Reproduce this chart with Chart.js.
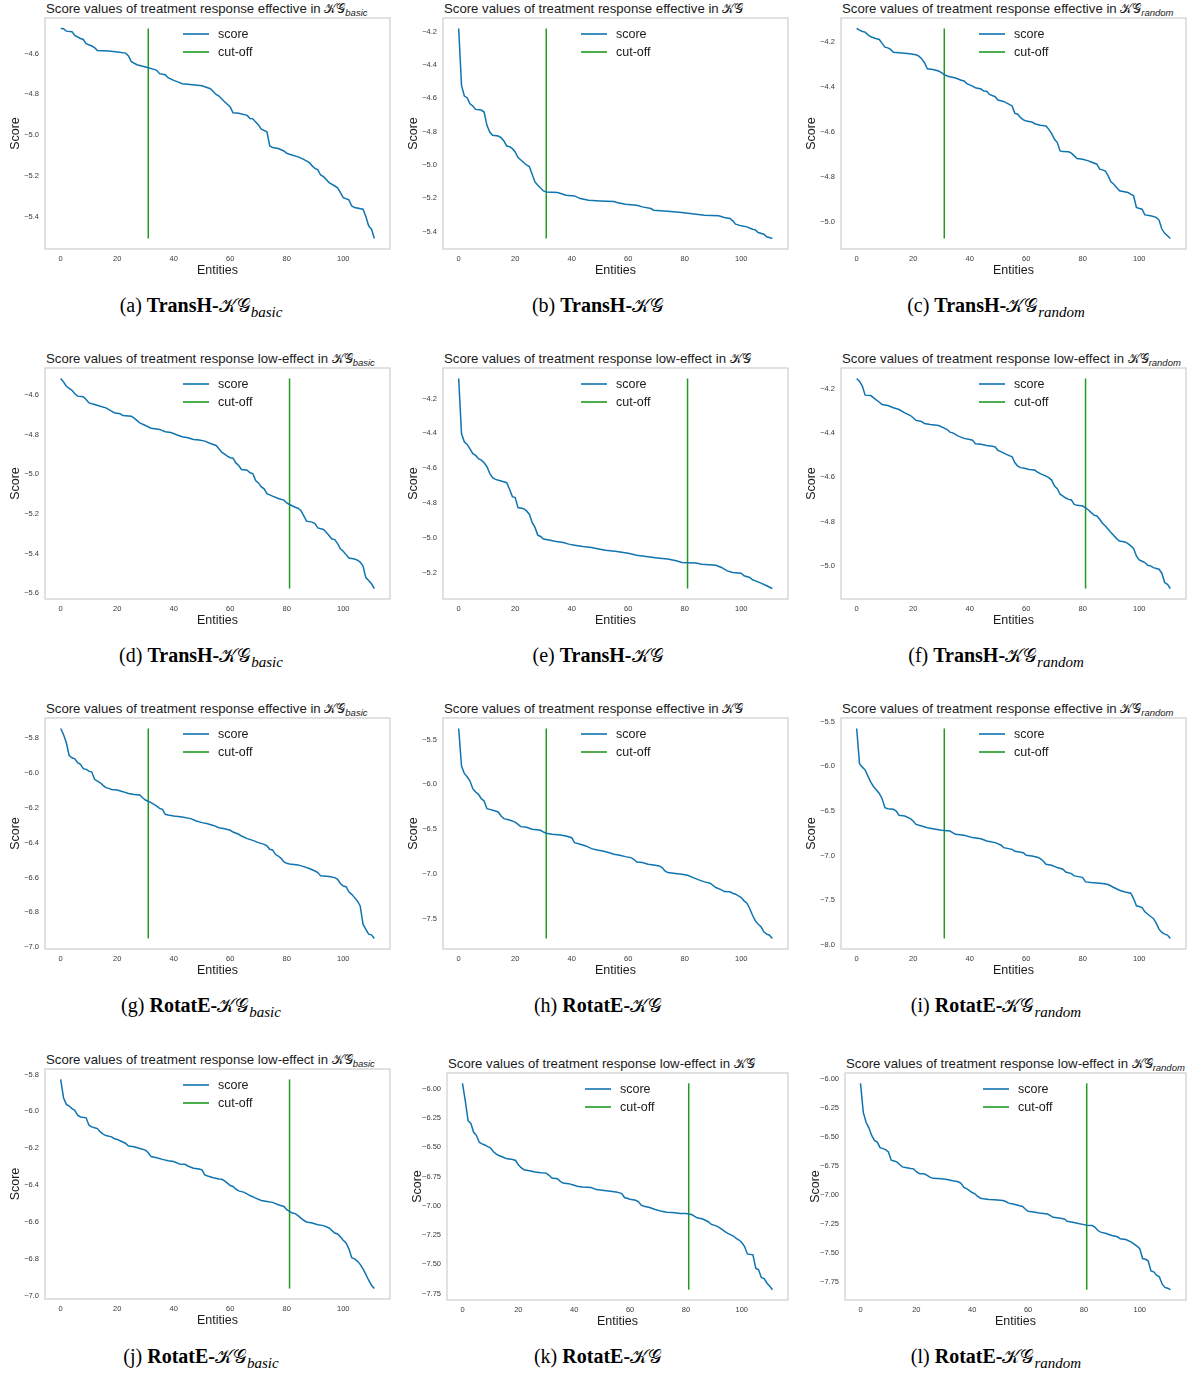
<!DOCTYPE html>
<html>
<head>
<meta charset="utf-8">
<script src="https://cdn.jsdelivr.net/npm/chart.js@4.4.0/dist/chart.umd.min.js"></script>
<style>
  body { margin: 0; background: #fff; width: 1192px; height: 1374px; position: relative; overflow: hidden;
         font-family: 'Liberation Sans', Arial, sans-serif; }
  canvas { position: absolute; }
  .ttl { position: absolute; font-size: 13.2px; color: #1a1a1a; white-space: nowrap; line-height: 14px; }
  .ttl .kg { font-family: 'DejaVu Serif', serif; font-size: 13px; }
  .ttl sub { font-style: italic; font-size: 9.5px; vertical-align: -3px; line-height: 0; }
  .cap { position: absolute; font-family: 'Liberation Serif', 'Times New Roman', serif; font-size: 20px;
         white-space: nowrap; transform: translateX(-50%); line-height: 24px; color: #000; }
  .cap .kg { font-family: 'DejaVu Serif', serif; font-size: 19px; }
  .cap sub { font-style: italic; font-size: 15px; vertical-align: -5px; line-height: 0; }
</style>
</head>
<body>
<script>
// entity index (sorted by score) and score readings, one pair of arrays per panel
const xsA = [0,1,2,4,5,7,8,9,11,12,
  13,17,20,23,24,25,27,30,31,33,
  34,35,37,38,40,41,43,45,50,53,
  54,55,56,58,60,61,63,66,67,68,
  70,71,73,74,75,77,79,80,81,84,
  86,88,89,90,91,92,93,95,97,98,
  99,100,102,103,104,107,108,109,110,111]
const ysA = [-4.476,-4.477,-4.489,-4.492,-4.510,-4.525,-4.530,-4.551,-4.562,-4.570,
  -4.584,-4.587,-4.592,-4.597,-4.611,-4.639,-4.654,-4.665,-4.669,-4.677,
  -4.682,-4.698,-4.703,-4.718,-4.731,-4.736,-4.747,-4.750,-4.757,-4.772,
  -4.786,-4.800,-4.808,-4.836,-4.862,-4.890,-4.893,-4.903,-4.918,-4.920,
  -4.950,-4.971,-4.984,-5.053,-5.061,-5.066,-5.078,-5.089,-5.094,-5.107,
  -5.119,-5.135,-5.151,-5.164,-5.171,-5.196,-5.204,-5.233,-5.250,-5.259,
  -5.282,-5.307,-5.318,-5.348,-5.356,-5.364,-5.400,-5.446,-5.462,-5.508]

const xsB = [0,1,2,3,4,5,6,8,9,10,
  11,12,14,15,16,17,18,19,20,21,
  22,24,25,27,28,30,31,35,38,41,
  43,46,50,55,56,59,63,65,68,69,
  74,79,84,87,92,94,96,97,98,100,
  102,104,105,106,108,109,111]
const ysB = [-4.180,-4.522,-4.586,-4.596,-4.632,-4.646,-4.666,-4.670,-4.682,-4.762,
  -4.802,-4.822,-4.826,-4.836,-4.856,-4.886,-4.890,-4.902,-4.922,-4.956,
  -4.970,-5.000,-5.010,-5.102,-5.122,-5.156,-5.162,-5.166,-5.182,-5.186,
  -5.202,-5.212,-5.216,-5.220,-5.226,-5.236,-5.242,-5.252,-5.262,-5.272,
  -5.278,-5.286,-5.296,-5.302,-5.306,-5.316,-5.322,-5.336,-5.356,-5.366,
  -5.372,-5.386,-5.390,-5.406,-5.416,-5.432,-5.442]

const xsC = [0,1,2,3,4,5,6,7,8,9,
  10,11,12,13,18,21,22,23,24,25,
  27,29,30,31,32,33,35,37,38,39,
  41,42,44,45,46,47,49,50,52,54,
  55,56,57,58,59,60,62,63,65,
  67,68,69,70,71,72,73,75,76,77,
  78,80,82,83,85,86,87,88,89,90,
  91,93,96,97,98,99,100,101,102,104,
  106,107,108,109,110,111]
const ysC = [-4.141,-4.148,-4.154,-4.157,-4.169,-4.178,-4.182,-4.187,-4.190,-4.207,
  -4.224,-4.227,-4.234,-4.247,-4.252,-4.258,-4.264,-4.275,-4.293,-4.320,
  -4.323,-4.330,-4.337,-4.346,-4.352,-4.355,-4.361,-4.371,-4.374,-4.386,
  -4.397,-4.404,-4.410,-4.419,-4.420,-4.434,-4.444,-4.459,-4.465,-4.478,
  -4.485,-4.518,-4.522,-4.537,-4.547,-4.552,-4.556,-4.564,-4.571,
  -4.574,-4.589,-4.608,-4.633,-4.648,-4.685,-4.688,-4.689,-4.695,-4.707,
  -4.719,-4.722,-4.729,-4.734,-4.744,-4.766,-4.769,-4.774,-4.796,-4.822,
  -4.833,-4.862,-4.870,-4.877,-4.884,-4.936,-4.941,-4.944,-4.969,-4.973,
  -4.980,-4.992,-5.032,-5.051,-5.062,-5.074]

const xsD = [0,1,2,3,4,5,6,8,9,10,
  12,14,16,18,19,21,22,25,26,28,
  30,32,35,37,39,41,43,45,47,49,
  51,53,55,56,57,59,60,61,62,63,
  64,66,67,68,69,70,71,72,73,75,
  77,79,80,81,83,84,85,86,87,89,
  90,91,93,94,96,97,98,99,100,101,
  102,104,105,106,107,108,109,110,111]
const ysD = [-4.516,-4.533,-4.555,-4.566,-4.576,-4.593,-4.605,-4.608,-4.622,-4.639,
  -4.647,-4.656,-4.664,-4.681,-4.689,-4.694,-4.703,-4.706,-4.716,-4.740,
  -4.753,-4.767,-4.773,-4.785,-4.789,-4.800,-4.810,-4.815,-4.824,-4.827,
  -4.832,-4.844,-4.854,-4.871,-4.888,-4.908,-4.916,-4.918,-4.942,-4.955,
  -4.975,-4.979,-4.992,-4.996,-5.031,-5.043,-5.063,-5.073,-5.097,-5.110,
  -5.122,-5.130,-5.144,-5.152,-5.166,-5.171,-5.182,-5.208,-5.236,-5.241,
  -5.248,-5.270,-5.278,-5.292,-5.326,-5.329,-5.349,-5.376,-5.388,-5.405,
  -5.422,-5.427,-5.433,-5.443,-5.463,-5.521,-5.536,-5.552,-5.576]

const xsE = [0,1,2,3,4,5,6,7,8,9,
  10,11,12,13,15,17,18,19,20,21,
  23,24,25,26,27,28,29,30,32,34,
  37,39,41,44,47,50,52,56,60,63,
  67,71,74,77,79,81,84,86,91,93,
  95,97,100,101,103,104,105,107,109,111]
const ysE = [-4.085,-4.403,-4.449,-4.464,-4.489,-4.517,-4.527,-4.546,-4.554,-4.569,
  -4.592,-4.630,-4.655,-4.665,-4.674,-4.684,-4.722,-4.764,-4.769,-4.827,
  -4.833,-4.846,-4.865,-4.912,-4.941,-4.985,-4.993,-5.008,-5.013,-5.020,
  -5.028,-5.037,-5.043,-5.051,-5.057,-5.066,-5.072,-5.080,-5.089,-5.101,
  -5.110,-5.118,-5.123,-5.133,-5.143,-5.144,-5.146,-5.152,-5.158,-5.171,
  -5.191,-5.200,-5.204,-5.219,-5.229,-5.242,-5.248,-5.261,-5.276,-5.292]

const xsF = [0,1,2,3,5,6,8,9,11,13,
  15,17,19,20,21,23,24,26,29,31,
  32,33,34,36,38,40,41,42,44,46,
  48,49,50,51,53,55,56,57,58,
  59,61,63,64,65,67,68,69,70,71,
  72,73,74,75,76,77,78,80,81,82,
  83,84,85,86,87,88,89,90,92,93,
  95,96,97,98,99,100,101,102,103,104,
  105,107,108,109,110,111]
const ysF = [-4.155,-4.168,-4.189,-4.230,-4.232,-4.242,-4.262,-4.272,-4.277,-4.287,
  -4.295,-4.310,-4.322,-4.332,-4.344,-4.349,-4.358,-4.362,-4.367,-4.379,
  -4.385,-4.397,-4.400,-4.415,-4.425,-4.430,-4.433,-4.449,-4.452,-4.457,
  -4.460,-4.464,-4.479,-4.485,-4.497,-4.508,-4.535,-4.550,-4.557,
  -4.559,-4.565,-4.568,-4.577,-4.584,-4.595,-4.602,-4.613,-4.640,-4.652,
  -4.677,-4.685,-4.694,-4.700,-4.703,-4.723,-4.727,-4.730,-4.738,-4.748,
  -4.760,-4.771,-4.775,-4.790,-4.808,-4.820,-4.835,-4.850,-4.877,-4.888,
  -4.892,-4.900,-4.910,-4.921,-4.955,-4.973,-4.979,-4.985,-4.997,-5.000,
  -5.008,-5.015,-5.033,-5.075,-5.083,-5.102]

const xsG = [0,1,2,3,4,5,6,7,8,9,
  10,11,12,13,14,15,16,17,18,20,
  22,24,26,28,29,30,32,34,35,36,
  37,38,40,43,46,48,50,52,54,
  56,58,60,61,63,64,66,68,70,72,
  73,74,75,76,77,78,79,80,81,84,
  86,88,90,91,92,95,97,98,99,100,
  101,102,103,104,105,106,107,108,109,110,
  111]
const ysG = [-5.743,-5.777,-5.825,-5.898,-5.911,-5.917,-5.940,-5.949,-5.974,-5.978,
  -5.988,-5.993,-6.035,-6.045,-6.055,-6.070,-6.083,-6.087,-6.093,-6.097,
  -6.106,-6.116,-6.122,-6.125,-6.141,-6.154,-6.169,-6.189,-6.202,-6.208,
  -6.236,-6.240,-6.246,-6.252,-6.261,-6.275,-6.284,-6.290,-6.300,
  -6.313,-6.319,-6.328,-6.338,-6.351,-6.361,-6.376,-6.386,-6.399,-6.409,
  -6.418,-6.437,-6.441,-6.466,-6.476,-6.489,-6.510,-6.518,-6.522,-6.527,
  -6.537,-6.548,-6.562,-6.571,-6.590,-6.594,-6.600,-6.610,-6.634,-6.648,
  -6.652,-6.682,-6.696,-6.715,-6.734,-6.763,-6.868,-6.897,-6.925,-6.929,
  -6.950]

const xsH = [0,1,2,3,4,5,6,7,8,9,
  10,11,13,14,15,16,18,20,21,22,
  24,26,29,30,31,33,36,38,40,41,
  43,45,47,49,51,53,55,57,59,61,
  62,63,65,67,69,71,72,73,74,76,
  79,81,83,85,87,89,91,93,94,96,
  97,98,99,100,101,102,103,104,105,106,
  107,108,109,110,111]
const ysH = [-5.378,-5.796,-5.878,-5.915,-5.963,-6.048,-6.085,-6.111,-6.159,-6.185,
  -6.270,-6.278,-6.296,-6.307,-6.352,-6.381,-6.396,-6.419,-6.444,-6.470,
  -6.478,-6.500,-6.511,-6.530,-6.544,-6.556,-6.563,-6.574,-6.593,-6.648,
  -6.667,-6.685,-6.715,-6.730,-6.741,-6.759,-6.778,-6.789,-6.804,-6.815,
  -6.833,-6.863,-6.870,-6.889,-6.896,-6.907,-6.926,-6.963,-6.981,-6.989,
  -7.000,-7.011,-7.037,-7.063,-7.085,-7.100,-7.148,-7.174,-7.193,-7.196,
  -7.211,-7.222,-7.241,-7.259,-7.296,-7.322,-7.381,-7.456,-7.519,-7.556,
  -7.585,-7.641,-7.667,-7.678,-7.715]

const xsI = [0,1,2,3,4,5,6,7,8,9,
  10,11,13,14,15,17,19,20,21,23,
  25,28,30,33,35,38,41,44,46,49,
  51,52,55,56,59,60,62,64,65,66,
  67,69,71,73,74,76,77,79,80,81,
  83,87,89,91,93,95,97,98,99,100,
  101,102,104,105,106,107,108,109,110,111]
const ysI = [-5.578,-5.972,-6.010,-6.043,-6.110,-6.177,-6.229,-6.266,-6.304,-6.363,
  -6.464,-6.475,-6.482,-6.501,-6.549,-6.557,-6.586,-6.612,-6.650,-6.668,
  -6.687,-6.705,-6.716,-6.724,-6.761,-6.772,-6.798,-6.810,-6.836,-6.854,
  -6.880,-6.910,-6.929,-6.951,-6.966,-6.996,-7.003,-7.018,-7.033,-7.059,
  -7.096,-7.107,-7.133,-7.152,-7.182,-7.200,-7.226,-7.237,-7.245,-7.293,
  -7.301,-7.312,-7.323,-7.356,-7.386,-7.405,-7.420,-7.479,-7.561,-7.568,
  -7.580,-7.628,-7.680,-7.702,-7.754,-7.821,-7.859,-7.877,-7.888,-7.926]

const xsJ = [0,1,2,3,4,5,6,7,9,10,
  11,12,13,14,15,16,18,19,20,21,
  22,23,24,26,28,30,31,32,34,36,
  38,40,41,42,44,45,47,49,50,51,
  52,54,56,57,58,59,60,61,62,63,
  65,67,69,71,73,75,77,79,80,81,
  82,83,84,85,86,87,89,91,93,95,
  97,98,99,100,101,102,103,104,105,106,
  107,108,109,110,111]
const ysJ = [-5.827,-5.926,-5.962,-5.971,-5.985,-5.994,-6.021,-6.030,-6.035,-6.075,
  -6.084,-6.089,-6.093,-6.111,-6.123,-6.131,-6.138,-6.148,-6.152,-6.159,
  -6.166,-6.174,-6.188,-6.192,-6.201,-6.210,-6.224,-6.245,-6.251,-6.260,
  -6.267,-6.272,-6.278,-6.285,-6.287,-6.296,-6.308,-6.312,-6.317,-6.344,
  -6.350,-6.360,-6.366,-6.368,-6.377,-6.389,-6.402,-6.407,-6.422,-6.431,
  -6.439,-6.456,-6.470,-6.483,-6.488,-6.493,-6.506,-6.515,-6.533,-6.542,
  -6.551,-6.554,-6.565,-6.578,-6.590,-6.599,-6.605,-6.614,-6.619,-6.632,
  -6.659,-6.664,-6.680,-6.698,-6.713,-6.745,-6.793,-6.799,-6.811,-6.829,
  -6.853,-6.883,-6.915,-6.942,-6.960]

const xsK = [0,1,2,3,4,5,6,7,8,9,
  10,11,12,13,14,15,16,18,19,20,
  21,22,24,26,28,30,31,32,34,35,
  36,38,40,41,43,46,48,50,53,55,
  56,57,58,60,62,63,64,65,67,69,
  71,73,75,78,80,82,83,84,86,88,
  89,91,92,94,95,97,98,99,100,101,
  102,104,105,106,107,108,109,110,111]
const ysK = [-5.952,-6.102,-6.272,-6.295,-6.371,-6.399,-6.456,-6.470,-6.479,-6.493,
  -6.504,-6.535,-6.555,-6.569,-6.578,-6.589,-6.598,-6.603,-6.612,-6.649,
  -6.674,-6.691,-6.700,-6.711,-6.717,-6.720,-6.739,-6.762,-6.768,-6.790,
  -6.805,-6.810,-6.824,-6.833,-6.839,-6.844,-6.861,-6.867,-6.875,-6.881,
  -6.887,-6.895,-6.929,-6.943,-6.952,-6.966,-6.994,-7.003,-7.014,-7.031,
  -7.045,-7.054,-7.057,-7.065,-7.066,-7.074,-7.088,-7.102,-7.113,-7.136,
  -7.156,-7.173,-7.187,-7.221,-7.235,-7.258,-7.278,-7.292,-7.314,-7.348,
  -7.411,-7.419,-7.533,-7.547,-7.612,-7.623,-7.660,-7.688,-7.717]

const xsL = [0,1,2,3,4,5,6,7,8,9,
  10,11,12,13,14,15,16,18,19,20,
  21,23,24,25,26,29,31,33,35,36,
  37,38,39,40,41,42,43,44,46,48,
  51,52,53,55,57,58,59,60,62,64,
  67,68,69,71,73,74,76,78,80,81,
  83,84,85,86,88,90,92,93,95,97,
  99,100,101,102,103,104,105,106,107,108,
  109,110,111]
const ysL = [-6.037,-6.287,-6.372,-6.420,-6.486,-6.528,-6.543,-6.591,-6.599,-6.608,
  -6.628,-6.699,-6.705,-6.713,-6.736,-6.756,-6.761,-6.770,-6.773,-6.798,
  -6.813,-6.818,-6.832,-6.847,-6.855,-6.858,-6.864,-6.875,-6.884,-6.898,
  -6.932,-6.943,-6.960,-6.977,-6.989,-7.011,-7.026,-7.031,-7.037,-7.040,
  -7.045,-7.054,-7.068,-7.077,-7.091,-7.097,-7.119,-7.139,-7.145,-7.153,
  -7.162,-7.176,-7.190,-7.196,-7.205,-7.224,-7.233,-7.244,-7.253,-7.259,
  -7.261,-7.276,-7.304,-7.318,-7.330,-7.347,-7.358,-7.375,-7.381,-7.403,
  -7.438,-7.460,-7.545,-7.551,-7.565,-7.651,-7.659,-7.688,-7.702,-7.764,
  -7.793,-7.801,-7.813]

// tick labels
const xTicks = [0, 20, 40, 60, 80, 100]
const yTicksA = [-5.4, -5.2, -5.0, -4.8, -4.6]
const yTicksB = [-5.4, -5.2, -5.0, -4.8, -4.6, -4.4, -4.2]
const yTicksC = [-5.0, -4.8, -4.6, -4.4, -4.2]
const yTicksD = [-5.6, -5.4, -5.2, -5.0, -4.8, -4.6]
const yTicksE = [-5.2, -5.0, -4.8, -4.6, -4.4, -4.2]
const yTicksF = [-5.0, -4.8, -4.6, -4.4, -4.2]
const yTicksG = [-7.0, -6.8, -6.6, -6.4, -6.2, -6.0, -5.8]
const yTicksH = [-7.5, -7.0, -6.5, -6.0, -5.5]
const yTicksI = [-8.0, -7.5, -7.0, -6.5, -6.0, -5.5]
const yTicksJ = [-7.0, -6.8, -6.6, -6.4, -6.2, -6.0, -5.8]
const yTicksK = [-7.75, -7.5, -7.25, -7.0, -6.75, -6.5, -6.25, -6.0]
const yTicksL = [-7.75, -7.5, -7.25, -7.0, -6.75, -6.5, -6.25, -6.0]

// cut-off positions and labels
const cutEffective = 31
const cutLowEffect = 81
const lastEntity = 111
const seriesLabels = ['score', 'cut-off']

const BLUE = '#0f74b0'
const GREEN = '#1f9a1f'
const FONT = "'Liberation Sans', Arial, sans-serif"

const panels = [
    { tag: 'a', model: 'TransH', resp: 'effective', kg: 'basic', xs: xsA, ys: ysA, ticks: yTicksA, dec: 1, cut: cutEffective, L: 45, T: 18, R: 390, B: 249, cx: 201, cy: 305 },
    { tag: 'b', model: 'TransH', resp: 'effective', kg: '', xs: xsB, ys: ysB, ticks: yTicksB, dec: 1, cut: cutEffective, L: 443, T: 18, R: 788, B: 249, cx: 598, cy: 305 },
    { tag: 'c', model: 'TransH', resp: 'effective', kg: 'random', xs: xsC, ys: ysC, ticks: yTicksC, dec: 1, cut: cutEffective, L: 841, T: 18, R: 1186, B: 249, cx: 996, cy: 305 },
    { tag: 'd', model: 'TransH', resp: 'low-effect', kg: 'basic', xs: xsD, ys: ysD, ticks: yTicksD, dec: 1, cut: cutLowEffect, L: 45, T: 368, R: 390, B: 599, cx: 201, cy: 655 },
    { tag: 'e', model: 'TransH', resp: 'low-effect', kg: '', xs: xsE, ys: ysE, ticks: yTicksE, dec: 1, cut: cutLowEffect, L: 443, T: 368, R: 788, B: 599, cx: 598, cy: 655 },
    { tag: 'f', model: 'TransH', resp: 'low-effect', kg: 'random', xs: xsF, ys: ysF, ticks: yTicksF, dec: 1, cut: cutLowEffect, L: 841, T: 368, R: 1186, B: 599, cx: 996, cy: 655 },
    { tag: 'g', model: 'RotatE', resp: 'effective', kg: 'basic', xs: xsG, ys: ysG, ticks: yTicksG, dec: 1, cut: cutEffective, L: 45, T: 718, R: 390, B: 949, cx: 201, cy: 1005 },
    { tag: 'h', model: 'RotatE', resp: 'effective', kg: '', xs: xsH, ys: ysH, ticks: yTicksH, dec: 1, cut: cutEffective, L: 443, T: 718, R: 788, B: 949, cx: 598, cy: 1005 },
    { tag: 'i', model: 'RotatE', resp: 'effective', kg: 'random', xs: xsI, ys: ysI, ticks: yTicksI, dec: 1, cut: cutEffective, L: 841, T: 718, R: 1186, B: 949, cx: 996, cy: 1005 },
    { tag: 'j', model: 'RotatE', resp: 'low-effect', kg: 'basic', xs: xsJ, ys: ysJ, ticks: yTicksJ, dec: 1, cut: cutLowEffect, L: 45, T: 1069, R: 390, B: 1299, cx: 201, cy: 1356 },
    { tag: 'k', model: 'RotatE', resp: 'low-effect', kg: '', xs: xsK, ys: ysK, ticks: yTicksK, dec: 2, cut: cutLowEffect, L: 447, T: 1073, R: 788, B: 1300, cx: 598, cy: 1356 },
    { tag: 'l', model: 'RotatE', resp: 'low-effect', kg: 'random', xs: xsL, ys: ysL, ticks: yTicksL, dec: 2, cut: cutLowEffect, L: 845, T: 1073, R: 1186, B: 1300, cx: 996, cy: 1356 },
]

// light grey box around the plot area (top/right included)
const framePlugin = {
    id: 'frame',
    beforeDatasetsDraw(chart) {
        const { ctx, chartArea: a } = chart
        ctx.save()
        ctx.strokeStyle = '#d2d2d2'
        ctx.lineWidth = 1.3
        ctx.strokeRect(a.left, a.top, a.right - a.left, a.bottom - a.top)
        ctx.restore()
    },
}

// matplotlib-like legend drawn inside the axes
const innerLegend = {
    id: 'innerLegend',
    afterDatasetsDraw(chart) {
        const { ctx, chartArea: a } = chart
        ctx.save()
        ctx.font = '12.5px ' + FONT
        ctx.textBaseline = 'middle'
        chart.data.datasets.forEach((ds, i) => {
            const y = a.top + 16 + i * 18
            const x0 = a.left + 138
            ctx.strokeStyle = ds.borderColor
            ctx.lineWidth = 1.6
            ctx.beginPath()
            ctx.moveTo(x0, y)
            ctx.lineTo(x0 + 26, y)
            ctx.stroke()
            ctx.fillStyle = '#1a1a1a'
            ctx.fillText(ds.label, x0 + 35, y + 0.5)
        })
        ctx.restore()
    },
}

const fmt = (v, dec) => (v < 0 ? '\u2212' : '') + Math.abs(v).toFixed(dec)

const kgHtml = kg => '<span class="kg">\u{1D4A6}\u{1D4A2}</span>' + (kg ? '<sub>' + kg + '</sub>' : '')

panels.forEach(p => {
    if (p.xs.length !== p.ys.length) throw new Error('length mismatch in panel ' + p.tag)

    const title = document.createElement('div')
    title.className = 'ttl'
    title.style.left = (p.L + 1) + 'px'
    title.style.top = (p.T - 16) + 'px'
    title.innerHTML = 'Score values of treatment response ' + p.resp + ' in ' + kgHtml(p.kg)
    document.body.appendChild(title)

    const cap = document.createElement('div')
    cap.className = 'cap'
    cap.style.left = p.cx + 'px'
    cap.style.top = (p.cy - 12) + 'px'
    cap.innerHTML = '(' + p.tag + ') <b>' + p.model + '-</b>' + kgHtml(p.kg)
    document.body.appendChild(cap)

    const padTop = 14, padRight = 6, yAxisW = 45, xAxisH = 32
    const w = p.R - p.L + yAxisW + padRight
    const h = p.B - p.T + padTop + xAxisH
    const canvas = document.createElement('canvas')
    canvas.width = w
    canvas.height = h
    canvas.style.width = w + 'px'
    canvas.style.height = h + 'px'
    canvas.style.left = (p.L - yAxisW) + 'px'
    canvas.style.top = (p.T - padTop) + 'px'
    document.body.appendChild(canvas)

    const lo = Math.min(...p.ys), hi = Math.max(...p.ys)
    const span = hi - lo

    new Chart(canvas, {
        type: 'line',
        data: {
            datasets: [
                {
                    label: seriesLabels[0],
                    data: p.xs.map((x, i) => ({ x: x, y: p.ys[i] })),
                    borderColor: BLUE,
                    borderWidth: 1.5,
                    pointRadius: 0,
                    tension: 0,
                },
                {
                    label: seriesLabels[1],
                    data: [{ x: p.cut, y: lo }, { x: p.cut, y: hi }],
                    borderColor: GREEN,
                    borderWidth: 1.5,
                    pointRadius: 0,
                },
            ],
        },
        options: {
            responsive: false,
            animation: false,
            devicePixelRatio: 1,
            layout: { padding: { top: padTop, right: padRight, left: 0, bottom: 0 } },
            plugins: { legend: { display: false }, tooltip: { enabled: false } },
            scales: {
                x: {
                    type: 'linear',
                    min: -0.05 * lastEntity,
                    max: 1.05 * lastEntity,
                    afterFit: s => { s.height = xAxisH },
                    afterBuildTicks: s => { s.ticks = xTicks.map(v => ({ value: v })) },
                    grid: { display: false, drawTicks: false },
                    border: { display: false },
                    ticks: {
                        autoSkip: false, maxRotation: 0, padding: 5, color: '#3a3a3a',
                        font: { size: 7.5, family: FONT },
                        callback: v => String(v),
                    },
                    title: {
                        display: true, text: 'Entities', color: '#1a1a1a',
                        font: { size: 12.5, family: FONT }, padding: { top: 0, bottom: 3 },
                    },
                },
                y: {
                    type: 'linear',
                    min: lo - 0.05 * span,
                    max: hi + 0.05 * span,
                    afterFit: s => { s.width = yAxisW },
                    afterBuildTicks: s => { s.ticks = p.ticks.map(v => ({ value: v })) },
                    grid: { display: false, drawTicks: false },
                    border: { display: false },
                    ticks: {
                        autoSkip: false, padding: 6, color: '#3a3a3a',
                        font: { size: 7.5, family: FONT },
                        callback: v => fmt(v, p.dec),
                    },
                    title: {
                        display: true, text: 'Score', color: '#1a1a1a',
                        font: { size: 12.5, family: FONT }, padding: { top: 8, bottom: 0 },
                    },
                },
            },
        },
        plugins: [framePlugin, innerLegend],
    })
})
</script>
</body>
</html>
